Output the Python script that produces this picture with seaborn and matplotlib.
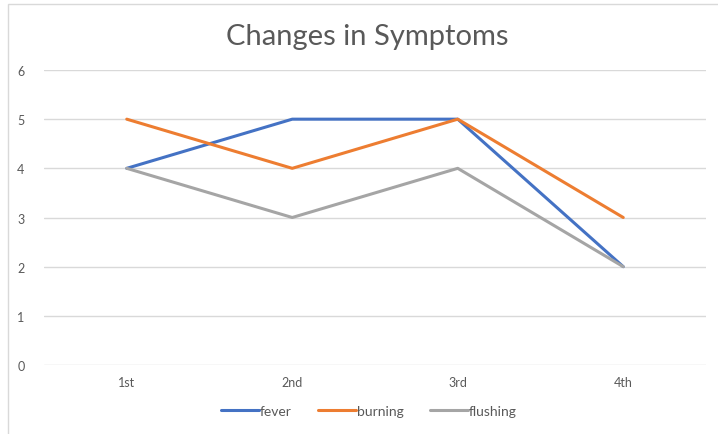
import matplotlib.pyplot as plt
import pandas as pd
import seaborn as sns
from matplotlib.patches import Rectangle

# Data
visits = ['1st', '2nd', '3rd', '4th']
fever = [4, 5, 5, 2]
burning = [5, 4, 5, 3]
flushing = [4, 3, 4, 2]

df = pd.DataFrame({'visit': visits, 'fever': fever, 'burning': burning, 'flushing': flushing})
df_long = df.melt(id_vars='visit', var_name='symptom', value_name='score')

sns.set_theme(style='white')
plt.rcParams['font.family'] = ['Lato', 'DejaVu Sans']

fig = plt.figure(figsize=(7.18, 4.35), dpi=100)
ax = fig.add_axes([44 / 718, 1 - 366 / 435, (706 - 44) / 718, (366 - 71) / 435])

palette = {'fever': '#4472C4', 'burning': '#ED7D31', 'flushing': '#A5A5A5'}
sns.lineplot(data=df_long, x='visit', y='score', hue='symptom', palette=palette,
             linewidth=2.2, ax=ax, sort=False, legend=False)

ax.set_xlim(-0.5, 3.5)
ax.set_ylim(0, 6)
ax.set_yticks(range(0, 7))
ax.yaxis.grid(True, color='#D9D9D9', linewidth=1)
ax.set_axisbelow(True)
for s in ax.spines.values():
    s.set_visible(False)
ax.tick_params(axis='both', colors='#595959', labelsize=9, length=0)
ax.tick_params(axis='y', pad=14)
ax.tick_params(axis='x', pad=8)
ax.set_xlabel('')
ax.set_ylabel('')

fig.text(367 / 718, 1 - 37 / 435, 'Changes in Symptoms', ha='center', va='center',
         fontsize=21, color='#595959')

# legend
handles = [plt.Line2D([], [], color=palette[k], linewidth=2.2) for k in ['fever', 'burning', 'flushing']]
fig.legend(handles, ['fever', 'burning', 'flushing'], loc='center', ncol=3,
           bbox_to_anchor=(369 / 718, 1 - 412 / 435), frameon=False, fontsize=10,
           handlelength=2.7, handletextpad=0.1, columnspacing=1.9, labelcolor='#595959')

# chart frame
fig.patches.append(Rectangle((8 / 718, -0.1), 1.2, 1 - 5 / 435 + 0.1, transform=fig.transFigure,
                             fill=False, edgecolor='#D9D9D9', linewidth=1))

fig.savefig('out.png', dpi=100)
